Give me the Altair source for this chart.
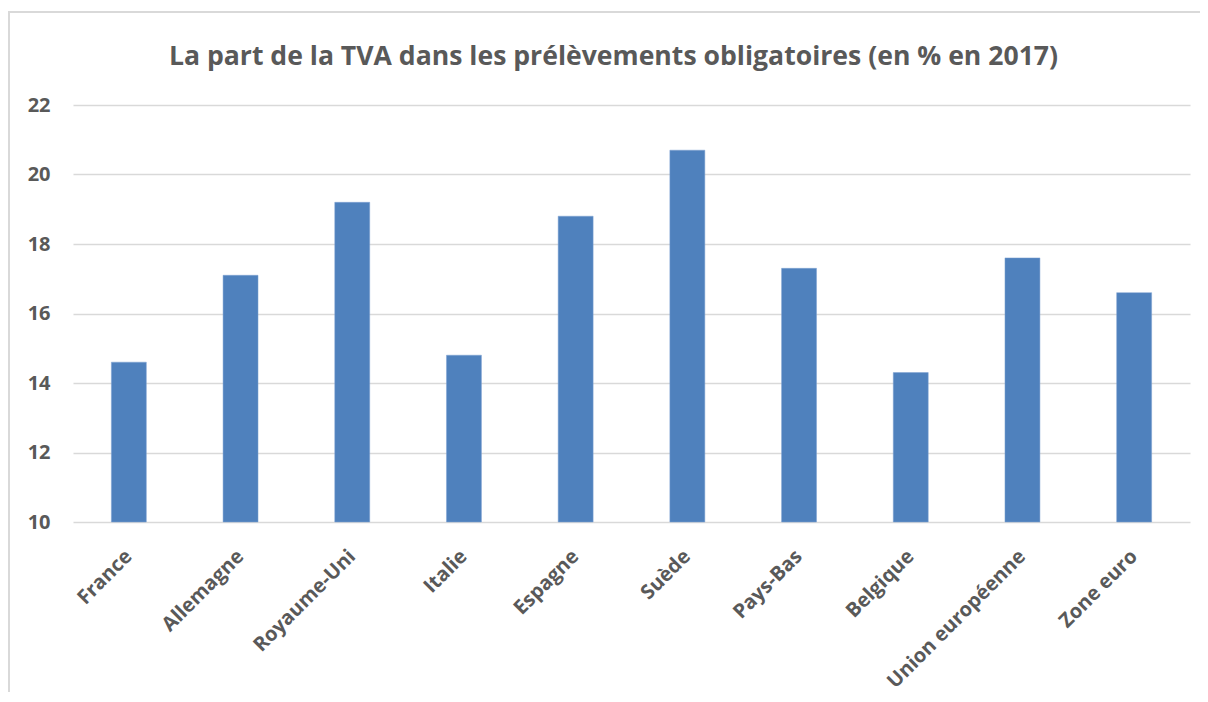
import altair as alt
import pandas as pd

pays = ["France", "Allemagne", "Royaume-Uni", "Italie", "Espagne", "Suède",
        "Pays-Bas", "Belgique", "Union européenne", "Zone euro"]
tva = [14.6, 17.1, 19.2, 14.8, 18.8, 20.7, 17.3, 14.3, 17.6, 16.6]
y_ticks = [10, 12, 14, 16, 18, 20, 22]
base = 10

df = pd.DataFrame({"pays": pays, "tva": tva, "base": [base] * len(pays)})

FONT = "Open Sans"
GREY = "#595959"

bars = alt.Chart(df).mark_bar(color="#4F81BD", stroke="#7FA3D2", strokeWidth=0.5).encode(
    x=alt.X("pays:N", sort=pays, title=None,
            scale=alt.Scale(paddingInner=0.687, paddingOuter=0.3435),
            axis=alt.Axis(labelAngle=-45, labelAlign="right", labelBaseline="middle",
                          labelFont=FONT, labelFontSize=20, labelFontWeight="bold",
                          labelColor=GREY, labelPadding=31, labelLimit=400,
                          ticks=False, domain=False, grid=False)),
    y=alt.Y("tva:Q", title=None,
            scale=alt.Scale(domain=[10, 22], nice=False, zero=False),
            axis=alt.Axis(values=y_ticks, labelFont=FONT, labelFontSize=20,
                          labelFontWeight="bold", labelColor=GREY, labelPadding=23,
                          ticks=False, domain=False, grid=True,
                          gridColor="#D9D9D9", gridWidth=1.5)),
    y2="base:Q",
)

border = alt.Chart(pd.DataFrame({"b": [0]})).mark_rect(
    fill=None, stroke="#D9D9D9", strokeWidth=2, clip=False
).encode(
    x=alt.value(-64), x2=alt.value(1140),
    y=alt.value(-93), y2=alt.value(700),
)

chart = alt.layer(border, bars).properties(
    width=1117, height=417,
    padding={"left": 65, "top": 97, "right": 10, "bottom": 170},
    autosize=alt.AutoSizeParams(type="none"),
    title=alt.TitleParams(
        "La part de la TVA dans les prélèvements obligatoires (en % en 2017)",
        font=FONT, fontSize=26.6, fontWeight="bold", color=GREY,
        anchor="middle", dx=-18, offset=0, dy=60,
    ),
).configure_view(stroke=None)

chart.save("out.html", embed_options={"renderer": "svg", "actions": False})
